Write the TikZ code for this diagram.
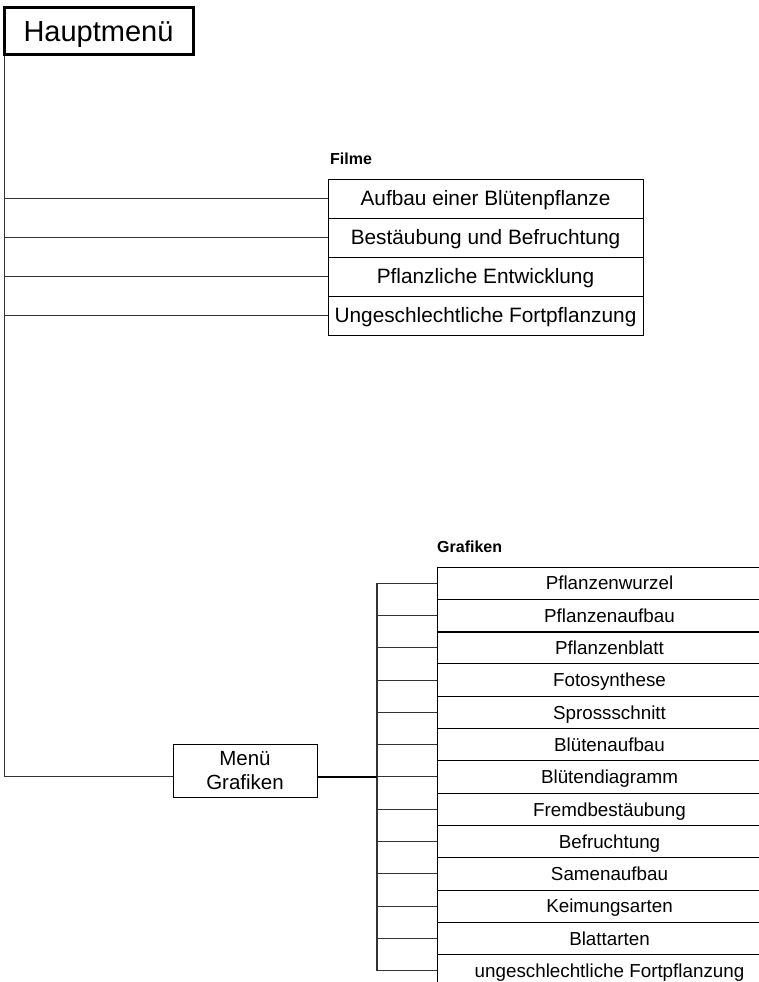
\documentclass[tikz,border=0pt]{standalone}
\usepackage{fontspec}
\setmainfont{Liberation Sans}
\usetikzlibrary{positioning}
\tikzset{
  kasten/.style={draw, line width=1pt, inner sep=0pt, outer sep=0pt},
  filmbox/.style={kasten, minimum width=315pt, minimum height=39pt, text height=14.9pt, text depth=0pt,
    font=\fontsize{20.8}{24}\selectfont},
  grafikbox/.style={kasten, minimum width=345pt, minimum height=32.3pt, text height=13.5pt, text depth=0pt,
    font=\fontsize{18.8}{22}\selectfont},
  titel/.style={inner sep=0pt, font=\bfseries\fontsize{16}{18}\selectfont},
  verbinder/.style={draw=black!80, line width=1pt},
}
\begin{document}
\begin{tikzpicture}[x=1pt, y=-1pt, line cap=butt, line join=miter]
  \useasboundingbox (0,0) rectangle (759,982);
  \clip (0,0) rectangle (759,982);
  % das Hauptmenue und der Stamm
  \node[draw, line width=3pt, inner sep=0pt, minimum width=189pt, minimum height=47pt,
        text height=20.8pt, text depth=0pt, font=\fontsize{29}{32}\selectfont] (hm) at (98.5,31.5) {Hauptmenü};
  \coordinate (stamm) at ([xshift=2pt]hm.south west);
  % die Filme
  \node[filmbox, anchor=north west] (f1) at (328,179) {Aufbau einer Blütenpflanze};
  \node[filmbox, below=0pt of f1] (f2) {Bestäubung und Befruchtung};
  \node[filmbox, below=0pt of f2] (f3) {Pflanzliche Entwicklung};
  \node[filmbox, below=0pt of f3] (f4) {Ungeschlechtliche Fortpflanzung};
  \node[titel, above right=14pt and 2pt of f1.north west, anchor=south west] (filme) {Filme};
  \foreach \i in {1,...,4} { \draw[verbinder] (stamm |- f\i.west) -- (f\i.west); }
  % die Grafiken
  \coordinate (g0) at (609.5,567);
  \foreach \name [count=\i] in {Pflanzenwurzel, Pflanzenaufbau, Pflanzenblatt, Fotosynthese,
      Sprossschnitt, Blütenaufbau, Blütendiagramm, Fremdbestäubung, Befruchtung,
      Samenaufbau, Keimungsarten, Blattarten, ungeschlechtliche Fortpflanzung} {
    \pgfmathtruncatemacro\j{\i-1}
    \node[grafikbox, below=0pt of g\j] (g\i) {\name};
  }
  \draw[line width=2pt] (g2.south west) -- (g2.south east);
  \node[titel, above right=14pt and 0pt of g1.north west, anchor=south west] (grafiken) {Grafiken};
  \coordinate (klammer) at ([xshift=-60pt]g1.west);
  \draw[verbinder, line width=1.3pt] (klammer) -- (klammer |- g13.west);
  \foreach \i in {1,...,13} { \draw[verbinder] (klammer |- g\i.west) -- (g\i.west); }
  % das Menue Grafiken
  \node[kasten, minimum width=144pt, minimum height=53pt, align=center,
        font=\fontsize{20.5}{23.3}\selectfont] (mg) at (245,770.5) {Menü\\Grafiken};
  \draw[verbinder] (stamm) |- (mg.west |- g7.west);
  \draw[line width=2pt] (mg.east |- g7.west) -- (klammer |- g7.west);
\end{tikzpicture}
\end{document}
